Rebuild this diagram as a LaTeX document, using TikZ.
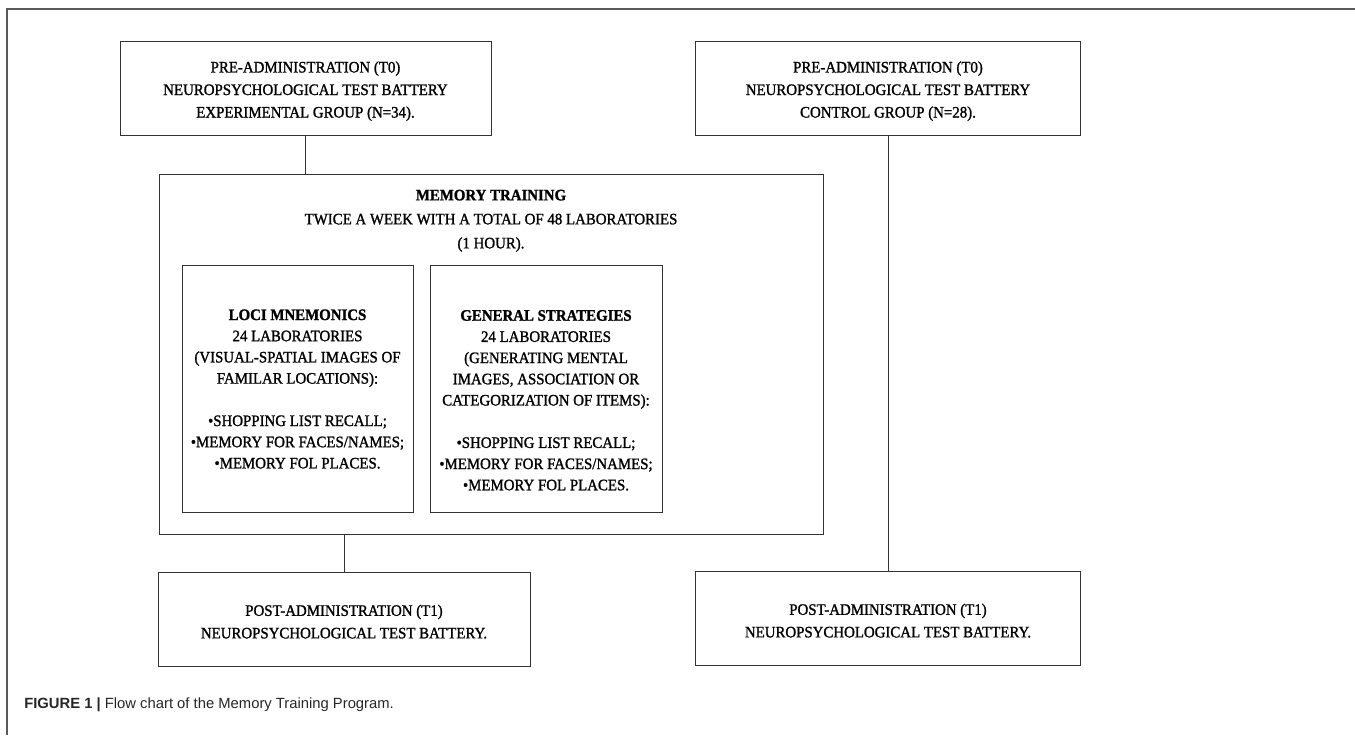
\documentclass[tikz,border=0pt]{standalone}
\usepackage{fontspec}
\setmainfont{Liberation Serif}[FakeStretch=0.93, FakeBold=1.3]
\newfontfamily\capfont{Liberation Sans}
\usepackage{xcolor}
\usetikzlibrary{positioning}
\definecolor{framegray}{gray}{0.35}
\definecolor{boxgray}{gray}{0.2}
\definecolor{capgray}{gray}{0.15}
\tikzstyle{box} = [draw=boxgray, line width=0.75pt, inner sep=0pt]
\tikzstyle{txt} = [align=center, inner sep=0pt, font=\fontsize{12}{16.9}\selectfont]
\tikzstyle{link} = [draw=boxgray, line width=0.75pt]

\begin{document}
\begin{tikzpicture}[x=0.75pt,y=-0.75pt]
          % frame
          \useasboundingbox (0,0) rectangle (1355,735);
          \draw [framegray, line width=1.1pt] (1355,9) -- (7,9) -- (7,735);
          % top row
          \node[box, minimum width=278.25pt, minimum height=69.75pt] (pre1) at (305.5,88.5) {};
          \node[txt, yshift=-2pt] (pre1txt) at (pre1)
               {PRE-ADMINISTRATION (T0)\\NEUROPSYCHOLOGICAL TEST BATTERY\\EXPERIMENTAL GROUP (N=34).};
          \node[box, minimum width=288.75pt, minimum height=69.75pt] (pre2) at (888,88.5) {};
          \node[txt, yshift=-2pt] (pre2txt) at (pre2)
               {PRE-ADMINISTRATION (T0)\\NEUROPSYCHOLOGICAL TEST BATTERY\\CONTROL GROUP (N=28).};
          % training
          \node[box, minimum width=498pt, minimum height=270pt] (train) at (491,354) {};
          \node[txt, font=\fontsize{12}{18}\selectfont, below=12pt of train.north] (traintxt)
               {\textbf{MEMORY TRAINING}\\TWICE A WEEK WITH A TOTAL OF 48 LABORATORIES\\(1 HOUR).};
          \node[box, minimum width=173.25pt, minimum height=185.25pt] (loci) at (297.5,388.5) {};
          \node[txt, font=\fontsize{12}{15.9}\selectfont, below=33.5pt of loci.north] (locitxt)
               {\textbf{LOCI MNEMONICS}\\24 LABORATORIES\\(VISUAL-SPATIAL IMAGES OF\\FAMILAR LOCATIONS):\\[15.9pt]
                •SHOPPING LIST RECALL;\\•MEMORY FOR FACES/NAMES;\\•MEMORY FOL PLACES.};
          \node[box, minimum width=174pt, minimum height=185.25pt] (gen) at (546,388.5) {};
          \node[txt, font=\fontsize{12}{15.9}\selectfont, below=34pt of gen.north] (gentxt)
               {\textbf{GENERAL STRATEGIES}\\24 LABORATORIES\\(GENERATING MENTAL\\IMAGES, ASSOCIATION OR\\CATEGORIZATION OF ITEMS):\\[15.9pt]
                •SHOPPING LIST RECALL;\\•MEMORY FOR FACES/NAMES;\\•MEMORY FOL PLACES.};
          % bottom row
          \node[box, minimum width=279pt, minimum height=70.5pt] (post1) at (344,619) {};
          \node[txt, yshift=-2pt] (post1txt) at (post1)
               {POST-ADMINISTRATION (T1)\\NEUROPSYCHOLOGICAL TEST BATTERY.};
          \node[box, minimum width=288.75pt, minimum height=70.5pt] (post2) at (888,618) {};
          \node[txt, yshift=-2pt] (post2txt) at (post2)
               {POST-ADMINISTRATION (T1)\\NEUROPSYCHOLOGICAL TEST BATTERY.};
          % connectors
          \draw [link] (pre1.south) -- (pre1.south |- train.north);
          \draw [link] (post1.north |- train.south) -- (post1.north);
          \draw [link] (pre2.south) -- (post2.north);
          % caption
          \node[anchor=west, inner sep=0pt, text=capgray, font=\capfont\fontsize{11.1}{13}\selectfont] (caption) at (24,705)
               {\textbf{FIGURE 1 |} Flow chart of the Memory Training Program.};
\end{tikzpicture}
\end{document}
